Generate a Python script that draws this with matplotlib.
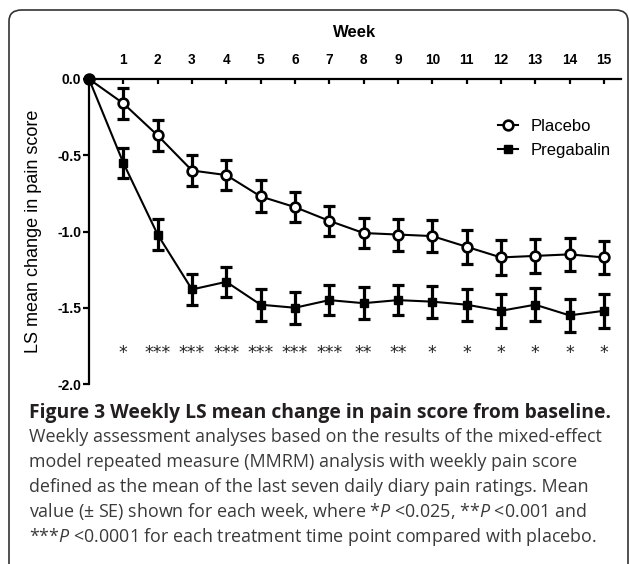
import matplotlib
matplotlib.use("Agg")
import matplotlib.pyplot as plt
from matplotlib.patches import FancyBboxPatch

plt.rcParams['font.family'] = ['Liberation Sans', 'DejaVu Sans']
plt.rcParams['axes.unicode_minus'] = False
plt.rcParams['mathtext.fontset'] = 'custom'
plt.rcParams['mathtext.rm'] = 'Open Sans'
plt.rcParams['mathtext.it'] = 'Open Sans:italic'

# --- data ---
weeks = [0, 1, 2, 3, 4, 5, 6, 7, 8, 9, 10, 11, 12, 13, 14, 15]
placebo = [0.0, -0.16, -0.37, -0.60, -0.63, -0.77, -0.84, -0.93, -1.01, -1.02,
           -1.03, -1.10, -1.17, -1.16, -1.15, -1.17]
placebo_se = [0.0, 0.10, 0.10, 0.10, 0.10, 0.105, 0.10, 0.10, 0.10, 0.105,
              0.105, 0.11, 0.115, 0.11, 0.11, 0.11]
pregabalin = [0.0, -0.55, -1.02, -1.38, -1.33, -1.48, -1.50, -1.45, -1.47, -1.45,
              -1.46, -1.48, -1.52, -1.48, -1.55, -1.52]
pregabalin_se = [0.0, 0.10, 0.10, 0.10, 0.10, 0.105, 0.105, 0.10, 0.105, 0.10,
                 0.105, 0.105, 0.11, 0.11, 0.11, 0.11]
stars = ["*", "***", "***", "***", "***", "***", "***", "**", "**",
         "*", "*", "*", "*", "*", "*"]
y_ticks = [0.0, -0.5, -1.0, -1.5, -2.0]

caption_title = "Figure 3 Weekly LS mean change in pain score from baseline."
caption_lines = [
    "Weekly assessment analyses based on the results of the mixed-effect",
    "model repeated measure (MMRM) analysis with weekly pain score",
    "defined as the mean of the last seven daily diary pain ratings. Mean",
    "value (\u00b1 SE) shown for each week, where *$P$ <0.025, **$P$ <0.001 and",
    "***$P$ <0.0001 for each treatment time point compared with placebo.",
]

fig = plt.figure(figsize=(6.29, 5.64), dpi=100)

# rounded frame around figure + caption
frame = FancyBboxPatch((9 / 629, -0.05), 619 / 629, (554 / 564) + 0.05,
                       boxstyle="round,pad=0,rounding_size=0.02",
                       transform=fig.transFigure, facecolor='none',
                       edgecolor='#333333', linewidth=1.2, zorder=-1)
fig.patches.append(frame)

ax = fig.add_axes([89 / 629, 180 / 564, 532 / 629, 305 / 564])
ax.patch.set_alpha(0)

err_kw = dict(elinewidth=2.3, capsize=4.5, capthick=2.3, color='black', clip_on=False)
ax.errorbar(weeks[1:], placebo[1:], yerr=placebo_se[1:], fmt='none', zorder=2, **err_kw)
ax.errorbar(weeks[1:], pregabalin[1:], yerr=pregabalin_se[1:], fmt='none', zorder=2, **err_kw)

ax.plot(weeks, placebo, color='black', lw=1.5, zorder=3, clip_on=False)
ax.plot(weeks, pregabalin, color='black', lw=1.5, zorder=3, clip_on=False)
ax.plot(weeks[1:], placebo[1:], ls='none', marker='o', ms=7, mfc='white', mec='black',
        mew=1.9, zorder=4)
ax.plot(weeks[1:], pregabalin[1:], ls='none', marker='s', ms=6, mfc='black', mec='black',
        zorder=4)
# baseline point shared by both groups
ax.plot(weeks[0], placebo[0], marker='o', ms=8, color='black', zorder=5, clip_on=False)

for w, s in zip(weeks[1:], stars):
    ax.text(w, -1.83, s, ha='center', va='baseline', fontsize=12.5,
            family='DejaVu Sans', color='#222222')

# legend handles: line + marker
h1, = ax.plot([], [], color='black', lw=1.5, marker='o', ms=7, mfc='white', mec='black', mew=1.9)
h2, = ax.plot([], [], color='black', lw=1.5, marker='s', ms=6, mfc='black')
ax.legend([h1, h2], ['Placebo', 'Pregabalin'], loc='upper left',
          bbox_to_anchor=(0.768, 0.87), frameon=False, fontsize=12,
          handlelength=1.2, handletextpad=0.8, labelspacing=0.55,
          borderpad=0, borderaxespad=0)

ax.set_xlim(0, 15.5)
ax.set_ylim(-2.0, 0.0)
ax.set_xticks(weeks[1:])
ax.set_xticklabels([str(w) for w in weeks[1:]])
ax.set_yticks(y_ticks)
ax.set_yticklabels([f"{v:.1f}" for v in y_ticks])

ax.spines['bottom'].set_visible(False)
ax.spines['right'].set_visible(False)
ax.spines['top'].set_linewidth(1.6)
ax.spines['left'].set_linewidth(1.6)
ax.xaxis.tick_top()
ax.xaxis.set_label_position('top')
ax.tick_params(axis='x', direction='in', length=3.5, width=1.6, pad=8.5,
               labelsize=9.8)
ax.tick_params(axis='y', direction='out', length=4.5, width=1.6, pad=1,
               labelsize=10)
for lbl in ax.get_xticklabels() + ax.get_yticklabels():
    lbl.set_fontweight('bold')

ax.set_xlabel('Week', fontsize=12, fontweight='bold', labelpad=12)
ax.set_ylabel('LS mean change in pain score', fontsize=13)
ax.yaxis.set_label_coords(-0.088, 0.5)

# caption
fig.text(29 / 629, 1 - 413 / 564, caption_title, family='Open Sans', fontweight='bold',
         fontsize=13.9, color='#231f20', va='center')
line_y = [437, 462, 487, 512, 537]
for y, line in zip(line_y, caption_lines):
    fig.text(29 / 629, 1 - y / 564, line, family='Open Sans', fontsize=12.9,
             color='#3a3a3a', va='center')

fig.savefig("out.png", dpi=100)
